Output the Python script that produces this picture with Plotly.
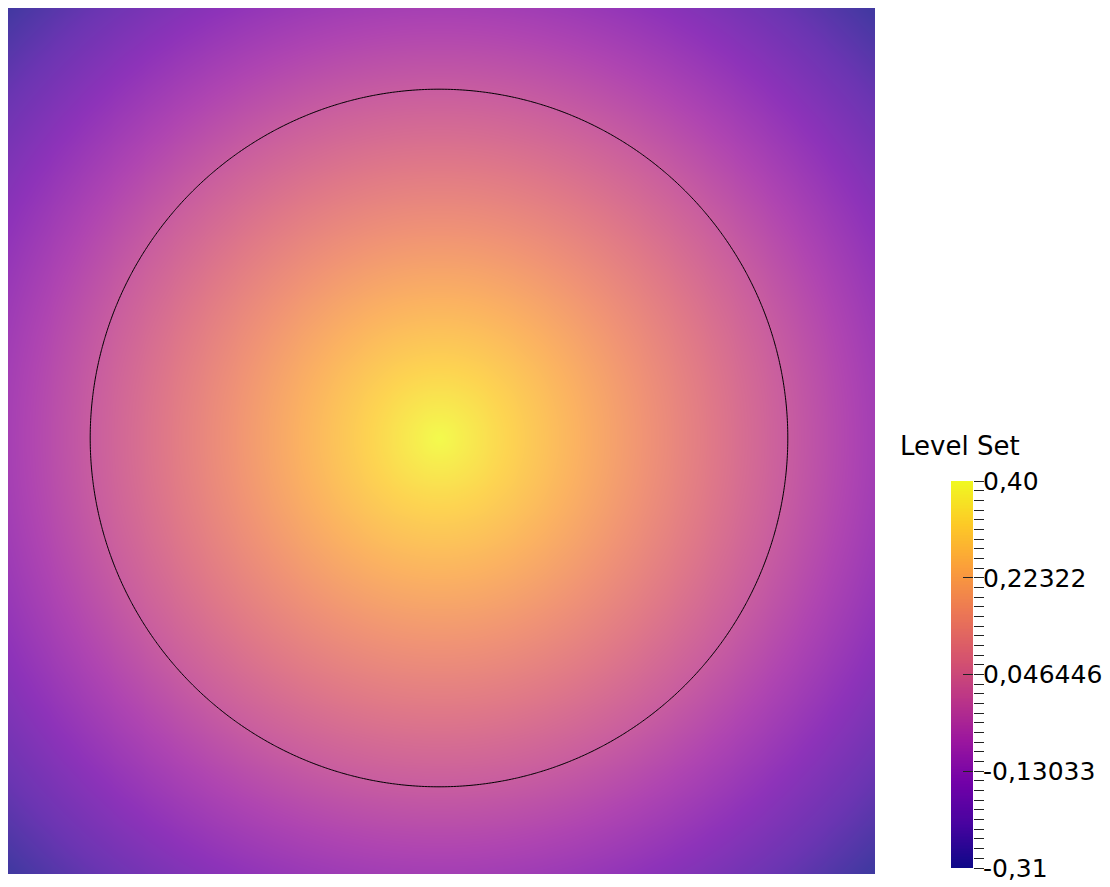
import numpy as np
import plotly.graph_objects as go
import plotly.colors as pc

# ---- data ----
domain_x = [0.0, 1.0]
domain_y = [0.0, 1.0]
circle_center = [0.5, 0.5]
circle_radius = 0.4
value_min = -0.30711
value_max = 0.40
tick_values = [0.40, 0.22322, 0.046446, -0.13033, -0.30711]
tick_labels = ["0,40", "0,22322", "0,046446", "-0,13033", "-0,31"]
minor_per_major = 10
grid_n = 301
bar_samples = 256

# level-set field (signed distance to circle, positive inside)
xs = np.linspace(domain_x[0], domain_x[1], grid_n)
ys = np.linspace(domain_y[0], domain_y[1], grid_n)
X, Y = np.meshgrid(xs, ys)
phi = circle_radius - np.sqrt((X - circle_center[0]) ** 2 + (Y - circle_center[1]) ** 2)

# colorscales
plasma = pc.sequential.Plasma
def blend(hexc, a):
    r, g, b = pc.hex_to_rgb(hexc)
    return "rgb(%d,%d,%d)" % (r + (255 - r) * a, g + (255 - g) * a, b + (255 - b) * a)
n = len(plasma)
shaded = [[i / (n - 1), blend(c, 0.2)] for i, c in enumerate(plasma)]
pure = [[i / (n - 1), c] for i, c in enumerate(plasma)]

# page has an 8px body margin; figure sized to fit the viewport
W, H = 1102, 879
OFF = 8
PX_PER_UNIT = 872.0  # view size of the unit square in the picture

fig = go.Figure()

fig.add_trace(go.Heatmap(x=xs, y=ys, z=phi, colorscale=shaded, zmin=value_min, zmax=value_max,
                         zsmooth="best", showscale=False, hoverinfo="skip", xaxis="x", yaxis="y"))
fig.add_trace(go.Contour(x=xs, y=ys, z=phi, showscale=False, hoverinfo="skip",
                         contours=dict(start=0, end=0, size=1, coloring="lines"),
                         colorscale=[[0, "black"], [1, "black"]],
                         line=dict(color="black", width=1), xaxis="x", yaxis="y"))

# colour bar drawn as its own heatmap
bar_y = np.linspace(value_min, value_max, bar_samples)
fig.add_trace(go.Heatmap(x=[0, 1], y=bar_y, z=[[v, v] for v in bar_y], colorscale=pure,
                         zmin=value_min, zmax=value_max, showscale=False, hoverinfo="skip",
                         xaxis="x2", yaxis="y2"))
fig.add_trace(go.Scatter(x=[None], y=[None], xaxis="x2", yaxis="y3", showlegend=False))

minor_step = (value_max - value_min) / (len(tick_values) - 1) / minor_per_major

# view: picture left edge at 3px, top at 2px, right 875, bottom 874 (page coords)
x_lo = (OFF - 3) / PX_PER_UNIT
y_hi = 1 - (OFF - 2) / PX_PER_UNIT

fig.update_layout(
    width=W, height=H, margin=dict(l=0, r=0, t=0, b=0, autoexpand=False),
    paper_bgcolor="white", plot_bgcolor="white", showlegend=False,
    font=dict(family="DejaVu Sans", color="black"),
    xaxis=dict(domain=[0, (875 - OFF) / W], range=[x_lo, 1], visible=False, automargin=False),
    yaxis=dict(domain=[1 - (874 - OFF) / H, 1], range=[0, y_hi], visible=False, automargin=False),
    xaxis2=dict(domain=[(951 - OFF) / W, (973 - OFF) / W], range=[-0.5, 1.5], visible=False,
                anchor="y2", automargin=False),
    yaxis2=dict(domain=[1 - (868 - OFF) / H, 1 - (481 - OFF) / H], range=[value_min, value_max],
                anchor="x2", side="right", automargin=False,
                showgrid=False, zeroline=False, showline=False,
                tickmode="array", tickvals=tick_values, ticktext=tick_labels,
                ticks="outside", ticklen=10, tickwidth=1, tickcolor="#222",
                ticklabelstandoff=-6,
                tickfont=dict(size=25, color="black", family="DejaVu Sans"),
                minor=dict(tickmode="linear", tick0=value_min, dtick=minor_step,
                           ticks="outside", ticklen=10, tickwidth=1, tickcolor="#222")),
    yaxis3=dict(overlaying="y2", anchor="x2", side="right", range=[value_min, value_max],
                automargin=False,
                showgrid=False, zeroline=False, showline=False, showticklabels=False,
                tickmode="array", tickvals=tick_values,
                ticks="inside", ticklen=10, tickwidth=1, tickcolor="#222", layer="above traces"),
)

fig.add_annotation(text="Level Set", xref="paper", yref="paper",
                   x=(898 - OFF) / W, y=1 - (445.5 - OFF) / H,
                   xanchor="left", yanchor="middle", showarrow=False,
                   font=dict(size=26, color="black", family="DejaVu Sans"))

fig.write_html("out.html")
